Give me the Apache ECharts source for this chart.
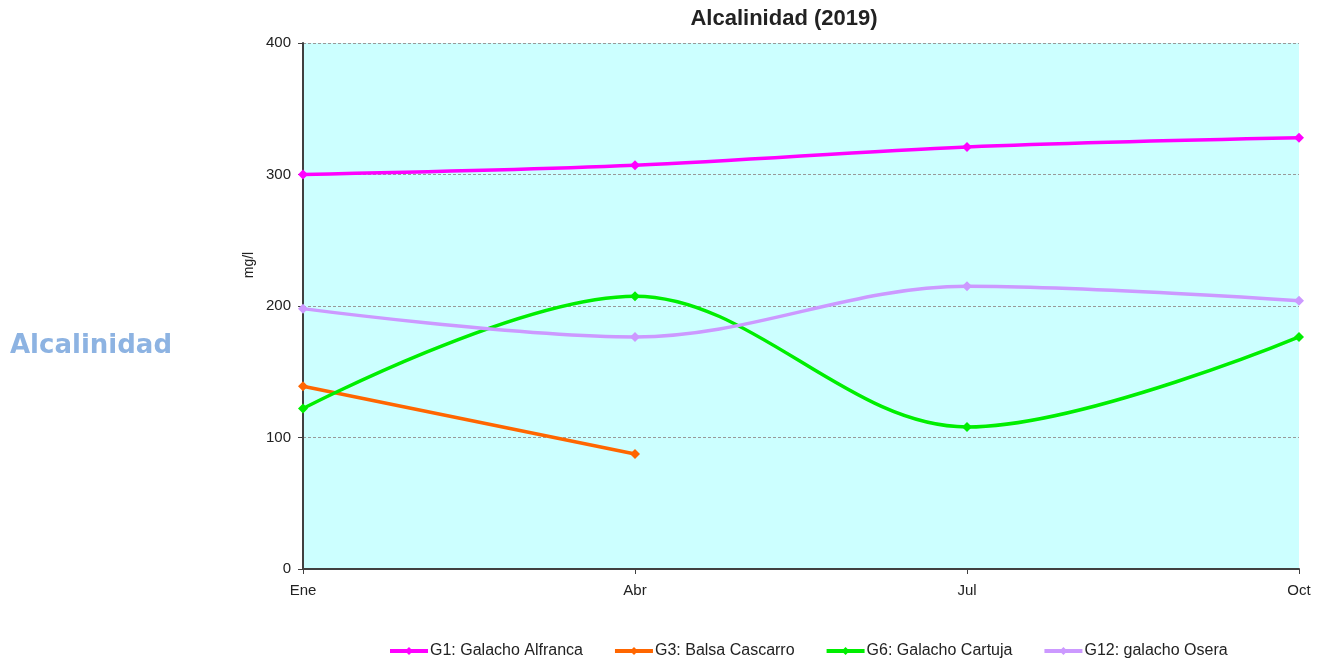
<!DOCTYPE html>
<html><head><meta charset="utf-8">
<script src="https://cdn.jsdelivr.net/npm/echarts@6/dist/echarts.min.js"></script>
<style>html,body{margin:0;padding:0;background:#fff}#c{width:1324px;height:663px}</style>
</head><body><div id="c"></div>
<script>
const categories = ['Ene', 'Abr', 'Jul', 'Oct'];
const g1 = [300, 307, 321, 328];
const g3 = [139, 87.5, null, null];
const g6 = [122, 207.5, 108, 176.5];
const g12 = [198, 176.5, 215, 204];
const seriesNames = ['G1: Galacho Alfranca', 'G3: Balsa Cascarro', 'G6: Galacho Cartuja', 'G12: galacho Osera'];
const colors = ['#ff00ff', '#ff6600', '#00ee00', '#cc99ff'];

const chart = echarts.init(document.getElementById('c'), null, {renderer: 'canvas'});
const mk = (name, data, color) => ({
  name, type: 'line', data, smooth: 0.35, connectNulls: false,
  symbol: 'diamond', symbolSize: 10, showSymbol: true,
  lineStyle: {color, width: 3.5}, itemStyle: {color},
  emphasis: {disabled: true}
});
chart.setOption({
  animation: false,
  backgroundColor: '#ffffff',
  title: {text: 'Alcalinidad (2019)', left: 779, top: 3, textAlign: 'center',
    textStyle: {fontFamily: 'Liberation Sans', fontSize: 22, fontWeight: 'bold', color: '#222'}},
  graphic: [
    {type: 'text', left: 10, top: 333,
      style: {text: 'Alcalinidad', font: 'bold 26px "DejaVu Sans"', fill: '#8db3e2'}},
    {type: 'text', x: 249, y: 265, rotation: Math.PI / 2,
      style: {text: 'mg/l', font: '14px "Liberation Sans"', fill: '#222', align: 'center', verticalAlign: 'middle'}}
  ],
  legend: {top: 638, left: 383, itemWidth: 38, itemHeight: 10, itemGap: 30,
    lineStyle: {width: 4},
    textStyle: {fontFamily: 'Liberation Sans', fontSize: 16, color: '#222', padding: [0,0,0,-3]},
    data: seriesNames},
  grid: {left: 303, right: 25, top: 43, bottom: 94, containLabel: false,
    show: true, backgroundColor: '#ccffff', borderWidth: 0},
  xAxis: {type: 'category', data: categories, boundaryGap: false,
    axisLine: {lineStyle: {color: '#404040', width: 2}},
    axisTick: {show: true, alignWithLabel: true, length: 5, lineStyle: {color: '#404040'}},
    axisLabel: {fontFamily: 'Liberation Sans', fontSize: 15, color: '#222', margin: 14},
    splitLine: {show: false}},
  yAxis: {type: 'value', min: 0, max: 400, interval: 100,
    axisLine: {show: true, lineStyle: {color: '#404040', width: 2}},
    axisTick: {show: true, length: 5, lineStyle: {color: '#404040'}},
    axisLabel: {fontFamily: 'Liberation Sans', fontSize: 15, color: '#222', margin: 12},
    splitLine: {show: true, lineStyle: {color: '#999', type: [3, 2], width: 1}}},
  series: [mk(seriesNames[0], g1, colors[0]), mk(seriesNames[1], g3, colors[1]),
           mk(seriesNames[2], g6, colors[2]), mk(seriesNames[3], g12, colors[3])]
});
</script></body></html>
